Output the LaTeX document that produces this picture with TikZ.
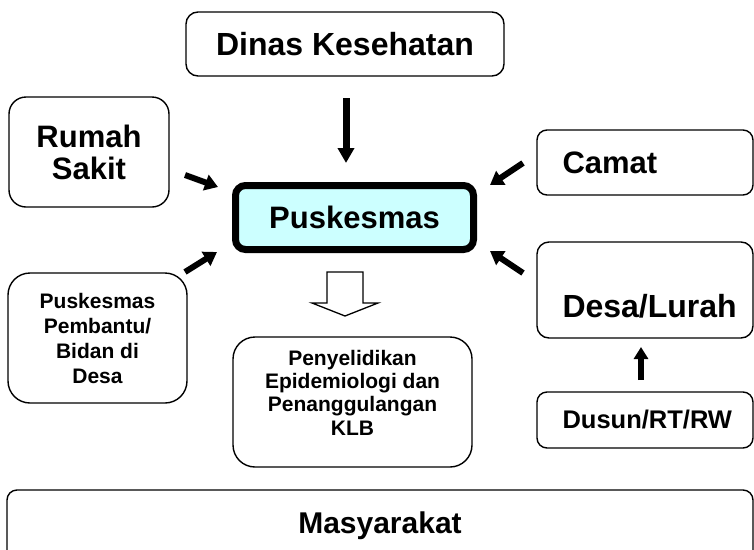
\documentclass[tikz,border=0pt]{standalone}
\usepackage{fontspec}
\setmainfont{Liberation Sans}
\usepackage{xcolor}
\definecolor{puskfill}{RGB}{204,255,255}
\tikzset{
    box/.style={draw, line width=1.4pt, rounded corners=12pt, inner sep=0pt, align=center},
    bigbox/.style={box, rounded corners=20pt},
    rbox/.style={box, minimum width=216pt, rounded corners=10pt},
    rtext/.style={anchor=west, xshift=26pt, inner sep=0pt, font=\bfseries\fontsize{#1}{#1}\selectfont},
    big/.style={font=\bfseries\fontsize{#1}{#1}\selectfont},
    fat arrow/.style={line width=6pt, -{Triangle[length=13pt,width=16pt]}},
    hollow arrow/.style={draw, line width=1.3pt, fill=white, line join=miter},
}
\usetikzlibrary{arrows.meta,calc,positioning}

\begin{document}
\begin{tikzpicture}[x=1pt,y=-1pt]
\useasboundingbox (0,0) rectangle (754,549);
\clip (0,0) rectangle (754,549);

\node[box, minimum width=318pt, minimum height=64pt, big=32] (dinas) at (345,44) {Dinas Kesehatan};
\node[bigbox, minimum width=160pt, minimum height=110pt, rounded corners=17pt,
      font=\bfseries\fontsize{31}{32}\selectfont] (rumah) at (89,152) {Rumah\\Sakit};
\node[box, line width=7pt, fill=puskfill, rounded corners=10pt,
      minimum width=238pt, minimum height=64pt, big=31] (pusk) at (354.5,217.5) {Puskesmas};
\node[bigbox, minimum width=179pt, minimum height=130pt, rounded corners=22pt,
      font=\bfseries\fontsize{21}{25}\selectfont] (pustu) at (97.5,338) {Puskesmas\\Pembantu/\\Bidan di\\Desa};
\node[bigbox, minimum width=239pt, minimum height=130pt, rounded corners=22pt, text depth=19pt,
      font=\bfseries\fontsize{21}{23.3}\selectfont] (klb) at (352.5,402)
      {Penyelidikan\\Epidemiologi dan\\Penanggulangan\\KLB};

% kolom kanan, teks rata kiri
\node[rbox, minimum height=65pt, label={[rtext=31]west:Camat}] (camat) at (645,162.5) {};
\node[rbox, minimum height=96pt, rounded corners=12pt,
      label={[rtext=32, yshift=-16pt]west:Desa/Lurah}] (desa) at (645,290) {};
\node[rbox, minimum height=56pt, label={[rtext=25.5]west:Dusun/RT/RW}] (dusun) at (645,420) {};

\node[box, minimum width=746pt, minimum height=72pt, rounded corners=10pt, big=30] (masy) at (380,526) {Masyarakat};

% ujung panah
\coordinate (dk-a) at (346,98);  \coordinate (dk-b) at (346,163);
\coordinate (rs-a) at (185,175); \coordinate (rs-b) at (218,187);
\coordinate (pb-a) at (185,272); \coordinate (pb-b) at (217,252);
\coordinate (cm-a) at (523,163); \coordinate (cm-b) at (490,185);
\coordinate (ds-a) at (523,273); \coordinate (ds-b) at (490,251);
\coordinate (rt-a) at (641,380); \coordinate (rt-b) at (641,347);

\draw[fat arrow, line width=7pt, -{Triangle[length=15pt,width=16pt]}] (dk-a) -- (dk-b);
\draw[fat arrow] (rs-a) -- (rs-b);
\draw[fat arrow] (pb-a) -- (pb-b);
\draw[fat arrow] (cm-a) -- (cm-b);
\draw[fat arrow] (ds-a) -- (ds-b);
\draw[fat arrow, -{Triangle[length=12pt,width=14pt]}] (rt-a) -- (rt-b);

\coordinate (hol) at (345,272);
\draw[hollow arrow] (hol) ++(-18,0) -- ++(36,0) -- ++(0,31) -- ++(15,0)
      -- ++(-33,13) -- ++(-33,-13) -- ++(15,0) -- cycle;
\end{tikzpicture}
\end{document}
